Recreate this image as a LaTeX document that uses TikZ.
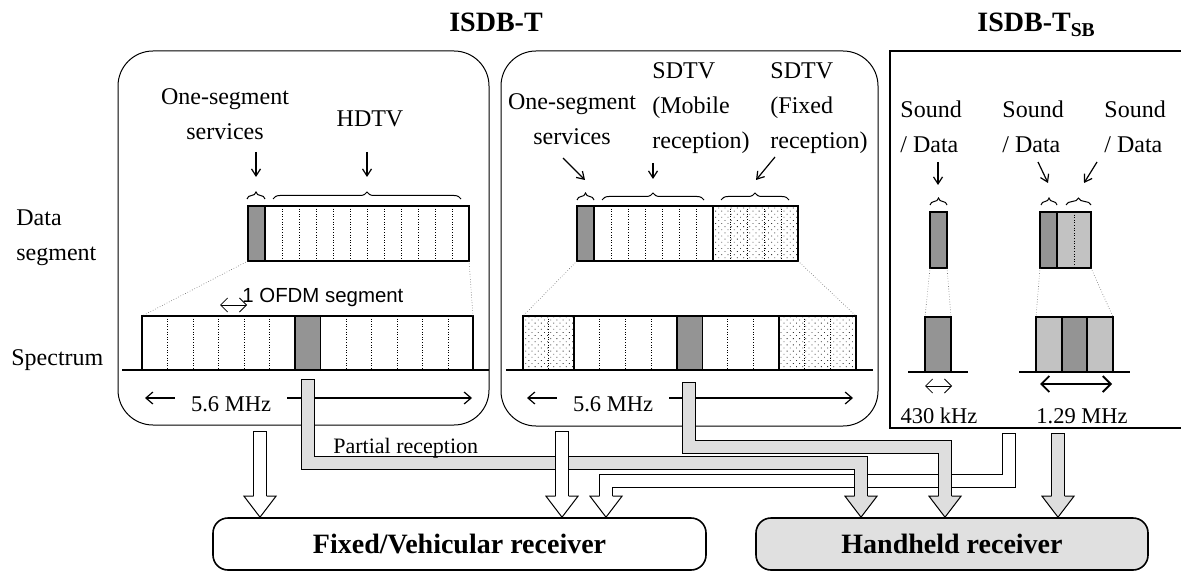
\documentclass[tikz,border=0pt]{standalone}
\usepackage{fontspec}
\setmainfont{Liberation Serif}
\newfontfamily\sansfont{Liberation Sans}
\usetikzlibrary{
        arrows.meta,
        decorations.pathreplacing,
        patterns.meta,
        positioning
    }
\definecolor{segdark}{gray}{0.58}
\definecolor{seglight}{gray}{0.76}
\definecolor{bandgray}{gray}{0.87}
\definecolor{handgray}{gray}{0.88}

\begin{document}
\begin{tikzpicture}
[x=0.5pt, y=-0.5pt,
lbl/.style={inner sep=0pt, font=\fontsize{12}{17.5}\selectfont},
lblsmall/.style={inner sep=0pt, font=\fontsize{11.25}{13}\selectfont},
heading/.style={inner sep=0pt, font=\fontsize{14}{16}\selectfont\bfseries},
panel/.style={draw, line width=0.5pt, rounded corners=17.5pt},
bar/.style={draw, line width=0.8pt, inner sep=0pt, outer sep=0pt, anchor=north west},
divider/.style={dash pattern=on 0.45pt off 0.85pt, line width=0.5pt},
sep/.style={line width=0.8pt},
dotfill/.style={pattern={Dots[radius=0.3pt, distance=2.2pt, angle=45]}, pattern color=black!80},
specline/.style={line width=0.9pt},
curly/.style={decorate, decoration={brace, amplitude=3.5pt}, line width=0.5pt},
pointer/.style={-{Straight Barb[length=3.5pt, width=4.5pt]}, line width=0.6pt},
dimarrow/.style={-{Straight Barb[length=3.5pt, width=6pt]}, line width=0.6pt},
openarrow/.style={{Straight Barb[length=3.5pt, width=7pt]}-{Straight Barb[length=3.5pt, width=7pt]}, line width=0.4pt},
zoomline/.style={densely dotted, line width=0.3pt, black!60},
receiver/.style={draw, line width=0.8pt, rounded corners=7.5pt, minimum height=26pt, inner sep=0pt, font=\fontsize{14}{16}\selectfont\bfseries},
wband/.style={draw=black, double=white, double distance=6pt, line width=0.5pt, line cap=rect, line join=miter, shorten >=10.5pt},
gband/.style={wband, double=bandgray},
pics/fathead/.style={code={\filldraw [fill=#1, line width=0.5pt, line join=miter] (-6.5,-21) -- (-16,-21) -- (0,0) -- (16,-21) -- (6.5,-21);}},
]
\useasboundingbox (0,0) rectangle (1181,572);

\node (isdbt) [heading, anchor=base] at (496,32) {ISDB-T};
\node (isdbtsb) [heading, anchor=base west] at (977,32) {ISDB-T\textsubscript{SB}};

\draw [panel] (118,51) rectangle (489,425);
\draw [panel] (501,51) rectangle (878,426);
\draw [line width=0.6pt] (890,51) rectangle (1190,428);

\node (datalbl) [lbl, align=left, anchor=west] at (16,238) {Data\\segment};
\node (speclbl) [lbl, anchor=west] at (11,360) {Spectrum};

% data segments
\fill [segdark] (248,206) rectangle (265,261);
\draw [sep] (265,206) -- ++(0,55);
\foreach \k in {1,...,11} \draw [divider] ({265+17*\k},206) -- ++(0,55);
\node (dsegA) [bar, minimum width=110.5pt, minimum height=27.5pt] at (248,206) {};

\fill [segdark] (577,206) rectangle (594,261);
\fill [dotfill] (713,206) rectangle (798,261);
\draw [sep] (594,206) -- ++(0,55) (713,206) -- ++(0,55);
\foreach \k in {1,...,6} \draw [divider] ({594+17*\k},206) -- ++(0,55);
\foreach \k in {1,...,4} \draw [divider] ({713+17*\k},206) -- ++(0,55);
\node (dsegB) [bar, minimum width=110.5pt, minimum height=27.5pt] at (577,206) {};

\fill [segdark] (930,212) rectangle (947,268);
\node (dsegC) [bar, minimum width=8.5pt, minimum height=28pt] at (930,212) {};
\fill [segdark] (1040,212) rectangle (1057,268);
\fill [seglight] (1057,212) rectangle (1091,268);
\draw [sep] (1057,212) -- ++(0,56);
\draw [divider] (1074,212) -- ++(0,56);
\node (dsegD) [bar, minimum width=25.5pt, minimum height=28pt] at (1040,212) {};

% spectra
\draw [specline] (122,370) -- (489,370);
\fill [segdark] (295,316) rectangle (320.5,370);
\draw [sep] (295,316) -- ++(0,54) (320.5,316) -- ++(0,54);
\foreach \k in {1,2,3,4,5,8,9,10,11,12} \draw [divider] ({142+25.5*\k},316) -- ++(0,54);
\node (specA) [bar, minimum width=165.5pt, minimum height=27pt] at (142,316) {};

\draw [specline] (506,370) -- (873,370);
\fill [dotfill] (523,316) rectangle (574.2,370);
\fill [dotfill] (779.2,316) rectangle (856,370);
\fill [segdark] (676.7,316) rectangle (702.3,370);
\foreach \k in {2,6,7,10} \draw [sep] ({523+25.615*\k},316) -- ++(0,54);
\foreach \k in {1,3,4,5,8,9,11,12} \draw [divider] ({523+25.615*\k},316) -- ++(0,54);
\node (specB) [bar, minimum width=166.5pt, minimum height=27pt] at (523,316) {};

\draw [specline] (908,372) -- (968,372);
\fill [segdark] (925,317) rectangle (951,372);
\node (specC) [bar, minimum width=13pt, minimum height=27.5pt] at (925,317) {};

\draw [specline] (1019,372) -- (1130,372);
\fill [seglight] (1036,317) rectangle (1113,372);
\fill [segdark] (1062,317) rectangle (1087,372);
\draw [sep] (1062,317) -- ++(0,55) (1087,317) -- ++(0,55);
\node (specD) [bar, minimum width=38.5pt, minimum height=27.5pt] at (1036,317) {};

\draw [zoomline] (dsegA.south west) -- (specA.north west);
\draw [zoomline] (dsegA.south east) -- (specA.north east);
\draw [zoomline] (dsegB.south west) -- (specB.north west);
\draw [zoomline] (dsegB.south east) -- (specB.north east);
\draw [zoomline] (dsegC.south west) -- (specC.north west);
\draw [zoomline] (dsegC.south east) -- (specC.north east);
\draw [zoomline] (dsegD.south west) -- (specD.north west);
\draw [zoomline] (dsegD.south east) -- (specD.north east);

% braces and labels
\draw [curly] (247,199) -- (265,199);
\draw [curly] (273,199) -- (461,199);
\draw [curly] (577,200) -- (594,200);
\draw [curly] (602,200) -- (704,200);
\draw [curly] (721,200) -- (789,200);
\draw [curly] (930,205) -- (947,205);
\draw [curly] (1041,205) -- (1057,205);
\draw [curly] (1066,205) -- (1091,205);

\node (oneA) [lbl, align=center] at (225,114) {One-segment\\services};
\node (hdtv) [lbl] at (370,119) {HDTV};
\node (oneB) [lbl, align=center] at (572,119) {One-segment\\services};
\node (mobile) [lbl, align=left, anchor=west] at (652,108) {SDTV\\(Mobile\\reception)};
\node (fixedtv) [lbl, align=left, anchor=west] at (770,108) {SDTV\\(Fixed\\reception)};
\node (sndA) [lbl, align=left, anchor=west] at (900,127) {Sound\\/ Data};
\node (sndB) [lbl, align=left, anchor=west] at (1002,127) {Sound\\/ Data};
\node (sndC) [lbl, align=left, anchor=west] at (1104,127) {Sound\\/ Data};

\coordinate (pA1) at (256,152); \coordinate (qA1) at (256,177);
\coordinate (pA2) at (367,152); \coordinate (qA2) at (367,177);
\coordinate (pB1) at (563,158); \coordinate (qB1) at (585,180);
\coordinate (pB2) at (653,163); \coordinate (qB2) at (653,179);
\coordinate (pB3) at (775,157); \coordinate (qB3) at (756,180);
\coordinate (pC1) at (938,162); \coordinate (qC1) at (938,185);
\coordinate (pC2) at (1038,162); \coordinate (qC2) at (1048,183);
\coordinate (pC3) at (1097,162); \coordinate (qC3) at (1084,183);
\foreach \s in {A1,A2,B1,B2,B3,C1,C2,C3} \draw [pointer] (p\s) -- (q\s);

\node (ofdm) [inner sep=0pt, anchor=west, font=\sansfont\fontsize{10.2}{12}\selectfont] at (242,297) {1 OFDM segment};
\coordinate (ofdm1) at (220,305); \coordinate (ofdm2) at (247,305);
\draw [openarrow] (ofdm1) -- (ofdm2);

\node (bwA) [lblsmall, inner xsep=8pt] at (231,404) {5.6 MHz};
\coordinate (bwA1) at (145,398); \coordinate (bwA2) at (472,398);
\draw [dimarrow] (bwA.west |- bwA1) -- (bwA1);
\draw [dimarrow] (bwA.east |- bwA2) -- (bwA2);
\node (bwB) [lblsmall, inner xsep=8pt] at (613,404) {5.6 MHz};
\coordinate (bwB1) at (527,398); \coordinate (bwB2) at (853,398);
\draw [dimarrow] (bwB.west |- bwB1) -- (bwB1);
\draw [dimarrow] (bwB.east |- bwB2) -- (bwB2);

\node (bwC) [lblsmall] at (939,416) {430 kHz};
\coordinate (bwC1) at (925,386); \coordinate (bwC2) at (952,386);
\draw [openarrow] (bwC1) -- (bwC2);
\node (bwD) [lblsmall] at (1082,416) {1.29 MHz};
\coordinate (bwD1) at (1040,384); \coordinate (bwD2) at (1112,384);
\draw [{Straight Barb[length=4pt, width=8pt]}-{Straight Barb[length=4pt, width=8pt]}, line width=0.9pt] (bwD1) -- (bwD2);

% receivers
\node (fixed) [receiver, minimum width=246.5pt] at (459.5,544) {Fixed/Vehicular receiver};
\node (hand) [receiver, fill=handgray, minimum width=196pt] at (952,544) {Handheld receiver};

\coordinate (srcC) at (1009,440); \coordinate (bendC) at (606,481);
\draw [wband] (srcC) |- (bendC) -- (bendC |- fixed.north);
\pic at (bendC |- fixed.north) {fathead=white};

\coordinate (srcD) at (308,386); \coordinate (bendD) at (861,463);
\draw [gband] (srcD) |- (bendD) -- (bendD |- hand.north);
\pic at (bendD |- hand.north) {fathead=bandgray};

\coordinate (srcE) at (689,389); \coordinate (bendE) at (945,447);
\draw [gband] (srcE) |- (bendE) -- (bendE |- hand.north);
\pic at (bendE |- hand.north) {fathead=bandgray};

\coordinate (srcF) at (1058,440);
\draw [gband] (srcF) -- (srcF |- hand.north);
\pic at (srcF |- hand.north) {fathead=bandgray};

\coordinate (srcA) at (260,438);
\draw [wband] (srcA) -- (srcA |- fixed.north);
\pic at (srcA |- fixed.north) {fathead=white};

\coordinate (srcB) at (562,438);
\draw [wband] (srcB) -- (srcB |- fixed.north);
\pic at (srcB |- fixed.north) {fathead=white};

\node (partial) [inner sep=0pt, anchor=west, font=\fontsize{11}{13}\selectfont] at (333,448) {Partial reception};

\end{tikzpicture}
\end{document}
